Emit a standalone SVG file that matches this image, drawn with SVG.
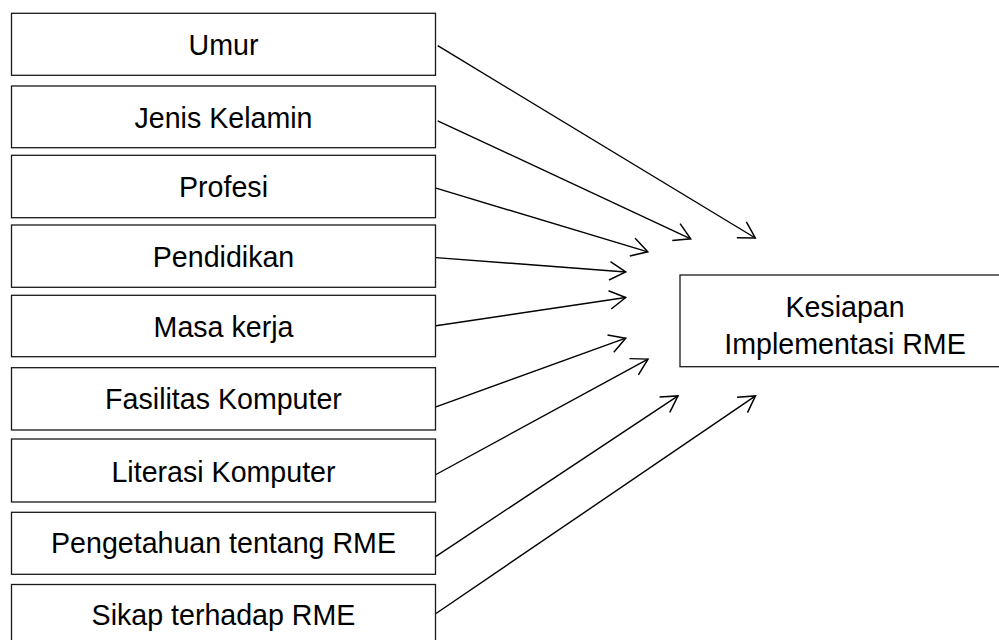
<svg xmlns="http://www.w3.org/2000/svg" width="999" height="640" viewBox="0 0 999 640">
<style>
  .box { fill: #ffffff; stroke: #1a1a1a; stroke-width: 1.3; }
  .lbl { font-family: "Liberation Sans", Arial, sans-serif; font-size: 28.6px; fill: #000; text-anchor: middle; }
  .conn { stroke: #000; stroke-width: 1.4; fill: none; marker-end: url(#arr); }
</style>
<defs>
  <marker id="arr" markerUnits="userSpaceOnUse" markerWidth="40" markerHeight="40" viewBox="-20 -20 40 40" refX="0" refY="0" orient="auto" overflow="visible">
    <path d="M-16,-9.25 L0,0 L-16,9.25" fill="none" stroke="#000" stroke-width="1.5"/>
  </marker>
</defs>
<rect x="0" y="0" width="999" height="640" fill="#ffffff"/>
<g id="n-umur"><rect class="box" x="11.5" y="13.3" width="424" height="62"/><text class="lbl" x="223.5" y="55">Umur</text></g>
<g id="n-jenis"><rect class="box" x="11.5" y="86" width="424" height="61.7"/><text class="lbl" x="223.5" y="127.7">Jenis Kelamin</text></g>
<g id="n-profesi"><rect class="box" x="11.5" y="155.3" width="424" height="62.4"/><text class="lbl" x="223.5" y="196.7">Profesi</text></g>
<g id="n-pendidikan"><rect class="box" x="11.5" y="225" width="424" height="62.3"/><text class="lbl" x="223.5" y="266.7">Pendidikan</text></g>
<g id="n-masa"><rect class="box" x="11.5" y="295.3" width="424" height="61.4"/><text class="lbl" x="223.5" y="337.3">Masa kerja</text></g>
<g id="n-fasilitas"><rect class="box" x="11.5" y="367.7" width="424" height="62.3"/><text class="lbl" x="223.5" y="409">Fasilitas Komputer</text></g>
<g id="n-literasi"><rect class="box" x="11.5" y="439" width="424" height="63"/><text class="lbl" x="223.5" y="481.7">Literasi Komputer</text></g>
<g id="n-pengetahuan"><rect class="box" x="11.5" y="512.3" width="424" height="62"/><text class="lbl" x="223.5" y="552.5">Pengetahuan tentang RME</text></g>
<g id="n-sikap"><rect class="box" x="11.5" y="584.5" width="424" height="62"/><text class="lbl" x="223.5" y="624.5">Sikap terhadap RME</text></g>
<g id="n-kesiapan"><rect class="box" x="680" y="275" width="330" height="91.7"/><text class="lbl" x="845" y="316.7">Kesiapan</text><text class="lbl" x="845" y="354">Implementasi RME</text></g>
<g id="connectors">
  <line class="conn" x1="437.7" y1="45.7" x2="755.3" y2="238"/>
  <line class="conn" x1="437.7" y1="120.8" x2="690.7" y2="238.8"/>
  <line class="conn" x1="436" y1="188.2" x2="647.8" y2="251.8"/>
  <line class="conn" x1="436" y1="257.6" x2="625.7" y2="272"/>
  <line class="conn" x1="436" y1="325.7" x2="625.7" y2="297.5"/>
  <line class="conn" x1="436" y1="406.8" x2="625.7" y2="338.2"/>
  <line class="conn" x1="436" y1="474.5" x2="648" y2="359.1"/>
  <line class="conn" x1="436" y1="556.3" x2="678" y2="395.9"/>
  <line class="conn" x1="436" y1="613.5" x2="755.5" y2="395.9"/>
</g>
</svg>
